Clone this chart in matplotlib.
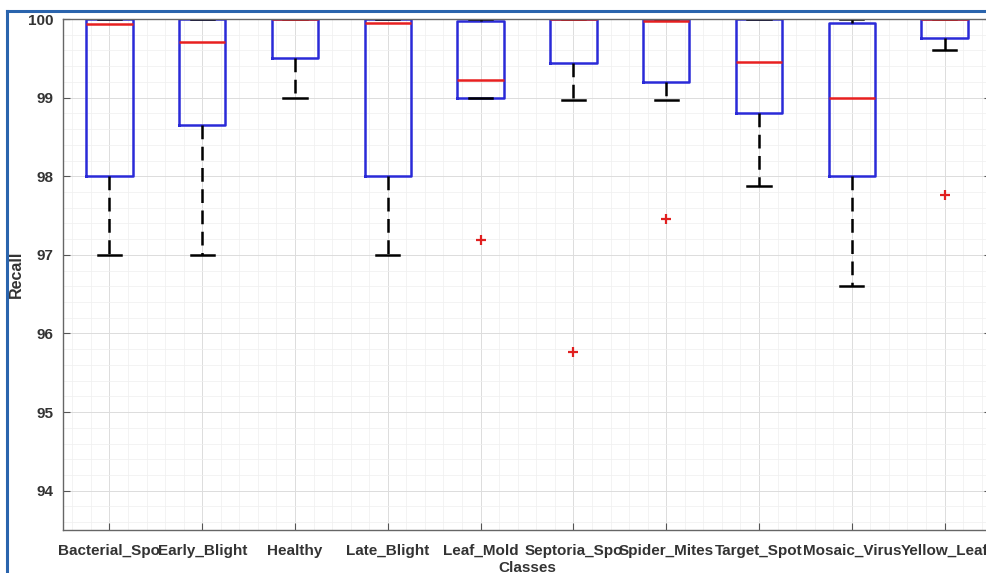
import matplotlib
matplotlib.use('Agg')
import matplotlib.pyplot as plt
from matplotlib.lines import Line2D
from matplotlib.ticker import MultipleLocator

plt.rcParams['font.family'] = ['Liberation Sans', 'DejaVu Sans']

# values
classes = ['Bacterial_Spo', 'Early_Blight', 'Healthy', 'Late_Blight', 'Leaf_Mold',
           'Septoria_Spo', 'Spider_Mites', 'Target_Spot', 'Mosaic_Virus', 'Yellow_Leaf']
q1 = [98.0, 98.65, 99.5, 98.0, 99.0, 99.44, 99.2, 98.8, 98.0, 99.76]
med = [99.94, 99.71, 100.0, 99.95, 99.22, 100.0, 99.98, 99.45, 99.0, 100.0]
q3 = [100.0, 100.0, 100.0, 100.0, 99.98, 100.0, 100.0, 100.0, 99.95, 100.0]
whis_lo = [97.0, 97.0, 99.0, 97.0, 99.0, 98.97, 98.97, 97.88, 96.61, 99.6]
whis_hi = [100.0, 100.0, 100.0, 100.0, 100.0, 100.0, 100.0, 100.0, 100.0, 100.0]
outliers = [[], [], [], [], [97.19], [95.76], [97.46], [], [], [97.76]]

stats = []
for i in range(len(classes)):
    stats.append({'label': classes[i], 'q1': q1[i], 'med': med[i], 'q3': q3[i],
                  'whislo': whis_lo[i], 'whishi': whis_hi[i], 'fliers': outliers[i]})

fig = plt.figure(figsize=(9.87, 5.73), dpi=100)
ax = fig.add_axes([63 / 987, 1 - 530 / 573, (991 - 63) / 987, (530 - 19) / 573])

ax.bxp(stats, widths=0.5, capwidths=0.25, patch_artist=False,
       boxprops=dict(color='#2a2ad8', linewidth=1.8),
       medianprops=dict(color='#e82020', linewidth=1.8),
       whiskerprops=dict(color='black', linewidth=1.8, linestyle=(0, (5.5, 3))),
       capprops=dict(color='black', linewidth=1.8),
       flierprops=dict(marker='+', markeredgecolor='#e02020', markersize=7,
                       markeredgewidth=1.6, linestyle='none'))

ax.set_xlim(0.5, 10.5)
ax.set_ylim(93.5, 100)
ax.yaxis.set_major_locator(MultipleLocator(1))
ax.yaxis.set_minor_locator(MultipleLocator(0.2))
ax.xaxis.set_minor_locator(MultipleLocator(0.2))
ax.grid(True, which='major', color='#dcdcdc', linewidth=0.7)
ax.grid(True, which='minor', color='#efefef', linewidth=0.5)
ax.set_axisbelow(True)

ax.tick_params(which='both', direction='in', top=False, right=True, colors='#555555',
               labelcolor='#333333', labelsize=11, length=5)
ax.tick_params(which='minor', length=0)
ax.tick_params(axis='x', which='major', pad=10)
ax.tick_params(axis='y', which='major', pad=7)
for lab in ax.get_xticklabels() + ax.get_yticklabels():
    lab.set_fontweight('bold')
for sp in ax.spines.values():
    sp.set_color('#666666')
    sp.set_linewidth(1.0)

ax.set_xlabel('Classes', fontsize=11, fontweight='bold', color='#333333', labelpad=2)
ax.set_ylabel('Recall', fontsize=11.5, fontweight='bold', color='#333333')
ax.yaxis.set_label_coords(-0.042, 0.5)

# blue frame of the screenshot
fig.add_artist(Line2D([7 / 987, 7 / 987], [0, 1 - 11 / 573], color='#2a64ad', linewidth=2.2))
fig.add_artist(Line2D([7 / 987, 1], [1 - 11 / 573, 1 - 11 / 573], color='#2a64ad', linewidth=2.2))

fig.savefig('out.png', dpi=100)
